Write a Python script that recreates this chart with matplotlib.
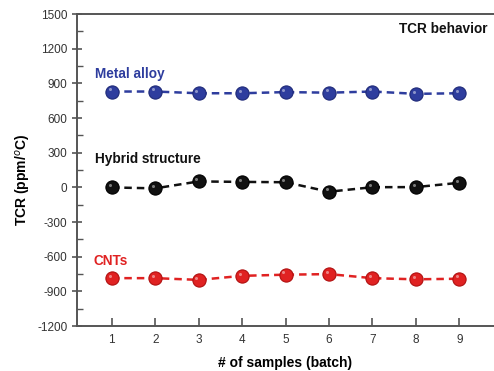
import matplotlib
matplotlib.use("Agg")
import matplotlib.pyplot as plt
from matplotlib.ticker import MultipleLocator

plt.rcParams['font.family'] = ['Liberation Sans', 'DejaVu Sans']
plt.rcParams['axes.unicode_minus'] = False

samples = [1, 2, 3, 4, 5, 6, 7, 8, 9]
metal_alloy = [830, 830, 815, 815, 825, 820, 830, 810, 815]
hybrid = [0, -8, 52, 48, 45, -37, 2, 3, 40]
cnts = [-785, -785, -800, -765, -755, -750, -785, -795, -790]

fig = plt.figure(figsize=(4.94, 3.71), dpi=100)
ax = fig.add_axes([0.156, 0.121, 0.844, 0.841])

series = [
    (metal_alloy, '#2E3D9E', '#1F2A78'),
    (hybrid, '#111111', '#000000'),
    (cnts, '#E02222', '#B01010'),
]
for vals, col, edge in series:
    ax.plot(samples, vals, linestyle=(0, (3, 2)), color=col, lw=1.8,
            marker='o', markersize=9.5, markerfacecolor=col,
            markeredgecolor=edge, markeredgewidth=0.8, zorder=3)
    ax.plot([s - 0.05 for s in samples], [v + 20 for v in vals], linestyle='none',
            marker='o', markersize=2.2, markerfacecolor='white', alpha=0.45,
            markeredgewidth=0, zorder=4)

ax.set_xlim(0.2, 9.8)
ax.set_ylim(-1200, 1500)
ax.set_xticks(samples)
ax.yaxis.set_major_locator(MultipleLocator(300))
ax.yaxis.set_minor_locator(MultipleLocator(150))

for s in ['left', 'bottom', 'top']:
    ax.spines[s].set_color('#555555')
    ax.spines[s].set_linewidth(1.4)
ax.spines['right'].set_visible(False)

ax.tick_params(axis='y', which='major', direction='inout', length=7, width=1.2,
               color='#555555', labelsize=8.5, labelcolor='#333333')
ax.tick_params(axis='y', which='minor', direction='in', length=4, width=1.0, color='#555555')
ax.tick_params(axis='x', which='major', direction='in', length=6, width=1.2,
               color='#555555', labelsize=8.5, labelcolor='#333333', pad=6)

ax.set_xlabel('# of samples (batch)', fontsize=10, fontweight='bold', labelpad=7)
ax.set_ylabel('TCR (ppm/$^o$C)', fontsize=10, fontweight='bold')
ax.yaxis.set_label_coords(-0.105, 0.47)

ax.text(0.61, 981, 'Metal alloy', color='#2E3D9E', fontsize=9.8, fontweight='bold', va='center', ha='left')
ax.text(0.61, 246, 'Hybrid structure', color='#111111', fontsize=9.8, fontweight='bold', va='center', ha='left')
ax.text(0.57, -637, 'CNTs', color='#E02222', fontsize=9.8, fontweight='bold', va='center', ha='left')
ax.text(9.65, 1370, 'TCR behavior', color='#111111', fontsize=9.8, fontweight='bold', va='center', ha='right')

fig.savefig('out.png', dpi=100)
